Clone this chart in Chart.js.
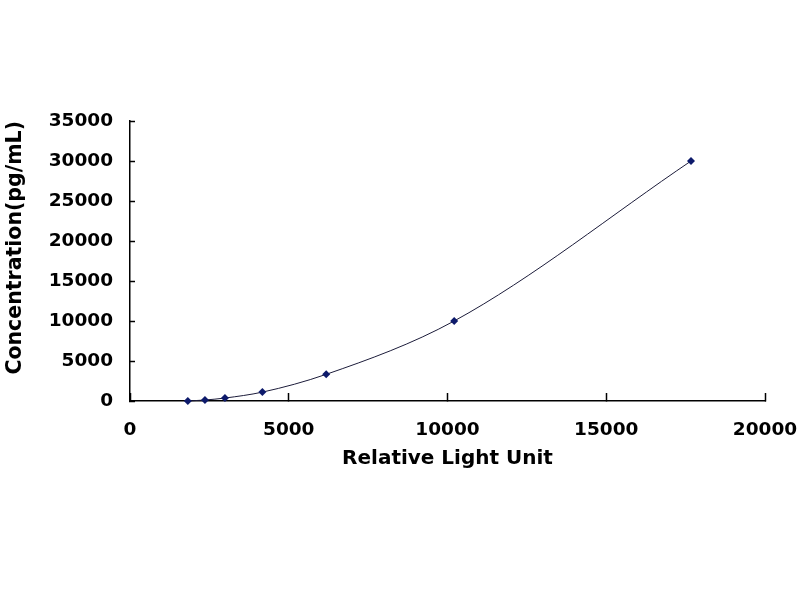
<!DOCTYPE html>
<html>
<head>
<meta charset="utf-8">
<script src="https://cdn.jsdelivr.net/npm/chart.js@4"></script>
<style>
html,body{margin:0;padding:0;background:#fff;}
#wrap{width:800px;height:600px;position:relative;}
</style>
</head>
<body>
<div id="wrap"><canvas id="c"></canvas></div>
<script>
// Data
const rluValues = [1820, 2360, 2990, 4170, 6180, 10210, 17670];
const concentrationValues = [0, 123, 370, 1111, 3333, 10000, 30000];
const xTickValues = [0, 5000, 10000, 15000, 20000];
const yTickValues = [0, 5000, 10000, 15000, 20000, 25000, 30000, 35000];
const xTitle = 'Relative Light Unit';
const yTitle = 'Concentration(pg/mL)';

const points = rluValues.map((x, i) => ({x: x, y: concentrationValues[i]}));
const FONT = "'DejaVu Sans', sans-serif";

new Chart(document.getElementById('c'), {
  type: 'scatter',
  data: {
    datasets: [{
      data: points,
      showLine: true,
      cubicInterpolationMode: 'monotone',
      borderColor: '#1c1c3a',
      borderWidth: 1,
      pointStyle: 'rectRot',
      pointRadius: 4,
      pointBackgroundColor: '#0d1a6b',
      pointBorderColor: '#0d1a6b',
      pointBorderWidth: 0,
      clip: false
    }]
  },
  options: {
    responsive: true,
    maintainAspectRatio: false,
    animation: false,
    layout: {padding: {left: 3.7, right: 35, top: 121, bottom: 129.5}},
    plugins: {legend: {display: false}, tooltip: {enabled: false}},
    scales: {
      x: {
        type: 'linear',
        min: 0, max: 20000,
        afterBuildTicks: s => { s.ticks = xTickValues.map(v => ({value: v})); },
        afterFit: s => { s.height = 69.5; s.paddingRight = 0; s.paddingLeft = 0; },
        ticks: {color: '#000', font: {family: FONT, size: 18.5, weight: 'bold'}, padding: 26, maxRotation: 0, autoSkip: false,
                callback: v => String(v)},
        grid: {display: true, drawOnChartArea: false, drawTicks: true, tickLength: -8, tickColor: '#000', tickWidth: 1.5},
        border: {display: true, color: '#000', width: 1.5},
        title: {display: true, text: xTitle, color: '#000', font: {family: FONT, size: 20, weight: 'bold'}, padding: 0}
      },
      y: {
        type: 'linear',
        min: 0, max: 35000,
        afterBuildTicks: s => { s.ticks = yTickValues.map(v => ({value: v})); },
        afterFit: s => { s.width = 126.3; s.paddingTop = 0; s.paddingBottom = 0; },
        ticks: {color: '#000', font: {family: FONT, size: 18.5, weight: 'bold'}, padding: 22, autoSkip: false,
                callback: v => String(v)},
        grid: {display: true, drawOnChartArea: false, drawTicks: true, tickLength: -5, tickColor: '#000', tickWidth: 1.5},
        border: {display: true, color: '#000', width: 1.5},
        title: {display: true, text: yTitle, align: 'end', color: '#000', font: {family: FONT, size: 20.5, weight: 'bold'}, padding: 0}
      }
    }
  }
});
</script>
</body>
</html>
